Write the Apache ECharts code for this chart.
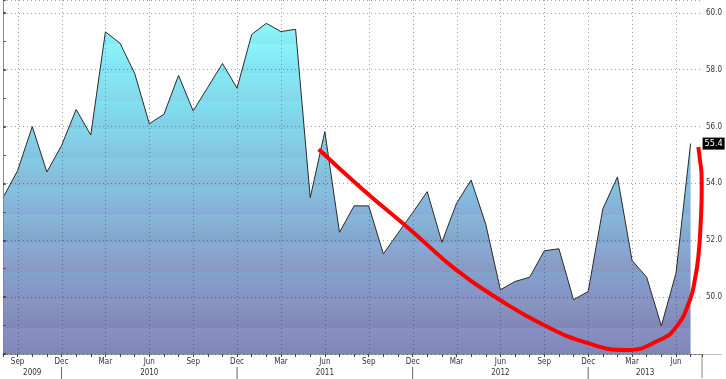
<!DOCTYPE html>
<html><head><meta charset="utf-8">
<script src="https://cdn.jsdelivr.net/npm/echarts@6/dist/echarts.min.js"></script>
<style>html,body{margin:0;padding:0;background:#fff}#c{width:726px;height:379px}</style>
</head><body><div id="c"></div>
<script>
const months = [
 'Aug 2009','Sep 2009','Oct 2009','Nov 2009','Dec 2009',
 'Jan 2010','Feb 2010','Mar 2010','Apr 2010','May 2010','Jun 2010','Jul 2010','Aug 2010','Sep 2010','Oct 2010','Nov 2010','Dec 2010',
 'Jan 2011','Feb 2011','Mar 2011','Apr 2011','May 2011','Jun 2011','Jul 2011','Aug 2011','Sep 2011','Oct 2011','Nov 2011','Dec 2011',
 'Jan 2012','Feb 2012','Mar 2012','Apr 2012','May 2012','Jun 2012','Jul 2012','Aug 2012','Sep 2012','Oct 2012','Nov 2012','Dec 2012',
 'Jan 2013','Feb 2013','Mar 2013','Apr 2013','May 2013','Jun 2013','Jul 2013'
];
const pmi = [
 53.5, 54.45, 56.0, 54.4, 55.33,
 56.6, 55.7, 59.33, 58.93, 57.87, 56.1, 56.43, 57.8, 56.55, 57.38, 58.22, 57.35,
 59.24, 59.63, 59.34, 59.42, 53.5, 55.82, 52.28, 53.21, 53.21, 51.52, 52.25, 52.97,
 53.71, 51.93, 53.3, 54.12, 52.56, 50.26, 50.55, 50.7, 51.63, 51.7, 49.91, 50.2,
 53.1, 54.23, 51.29, 50.7, 48.99, 50.84, 55.4
];
const labelMonths = ['Sep','Dec','Mar','Jun'];
const yLabelValues = [50, 52, 54, 56, 58, 60];
const lastValueText = '55.4';
const trendCurve = [
 [21.58,55.2],[24.63,53.77],[27.98,52.31],[30.98,50.96],[33.97,49.9],[36.93,49.03],
 [39.97,48.38],[42.6,48.14],[44.91,48.5],[46.05,48.97],[46.96,49.91],[47.29,50.61],
 [47.53,51.42],[47.69,52.61],[47.76,53.77],[47.75,54.3],[47.64,54.83],[47.53,55.28]
];

const FONT = '"Liberation Sans Narrow","DejaVu Sans Condensed",sans-serif';
const GRIDC = 'rgba(45,45,60,0.45)';
const bandEdges = [48, 48.9, 49.9, 50.9, 51.9, 52.9, 53.9, 54.9, 55.9, 56.9, 57.9, 58.9, 59.9, 60.45];
const bandColors = ['#8085b8','#8890c4','#8898c0','#80a4cc','#88acd8','#88b8d8','#84c2e0',
                    '#82cce6','#84d6ea','#80e0f0','#84eaf4','#8cf4fc','#90fafe'];

const chart = echarts.init(document.getElementById('c'), null, {renderer:'canvas'});
const isInt = v => Math.abs(v - Math.round(v)) < 1e-6;
const shortName = i => months[i].slice(0,3);
const gridLineIdx = months.map((m,i)=>i).filter(i => labelMonths.includes(shortName(i)));

const option = {
  animation: false,
  grid: {left: 3, right: 24, top: 0, bottom: 25},
  xAxis: [{
    type: 'value', min: 0, max: 47.78, interval: 1,
    axisLine: {show: true, lineStyle: {color: '#999'}},
    axisTick: {show: true, length: 3, lineStyle: {color: '#444'}},
    splitLine: {show: false}, minorSplitLine: {show: false},
    axisLabel: {margin: 4, fontSize: 8, color: '#333', fontFamily: FONT,
      formatter: v => (isInt(v) && months[Math.round(v)] && labelMonths.includes(shortName(Math.round(v)))) ? shortName(Math.round(v)) : ''}
  }],
  yAxis: [{
    type: 'value', position: 'right', min: 48, max: 60.45, interval: 2, z: 10,
    axisLine: {show: true, lineStyle: {color: '#888'}},
    axisTick: {show: true, length: 3, lineStyle: {color: '#333', width: 1.5}},
    minorTick: {show: true, splitNumber: 2, length: 3, lineStyle: {color: '#555'}},
    axisLabel: {margin: 4, fontSize: 8, color: '#333', fontFamily: FONT,
      formatter: v => yLabelValues.some(t => Math.abs(t - v) < 1e-6) ? v.toFixed(1) : ''},
    splitLine: {show: true, lineStyle: {type: [1,3], color: GRIDC}}
  }],
  series: [{
    type: 'line', data: pmi.map((v,i)=>[i,v]), symbol: 'none', z: 2,
    lineStyle: {color: '#2a2a2a', width: 1},
    areaStyle: {color: '#88b8d8', opacity: 1},
    endLabel: {show: true, formatter: lastValueText, distance: 12, color: '#fff',
      backgroundColor: '#000', padding: [2,2,1,2], fontSize: 9, fontFamily: FONT}
  }, {
    type: 'line', data: trendCurve, smooth: 0.5, symbol: 'none', z: 20, clip: false,
    lineStyle: {color: '#ff0000', width: 4}
  }]
};
chart.setOption(option);

const yPix = v => chart.convertToPixel({yAxisIndex: 0}, v);
const yTop = yPix(60.45), yBot = yPix(48);
const stops = [];
for (let b = 0; b < bandColors.length; b++) {
  const o0 = (yPix(bandEdges[b]) - yTop) / (yBot - yTop);
  const o1 = (yPix(bandEdges[b+1]) - yTop) / (yBot - yTop);
  stops.push({offset: Math.min(1,Math.max(0,o1)), color: bandColors[b]});
  stops.push({offset: Math.min(1,Math.max(0,o0)), color: bandColors[b]});
}
stops.sort((a,b)=>a.offset-b.offset);

const xPix = v => chart.convertToPixel({xAxisIndex: 0}, v);
const graphics = [];
// vertical gridlines at labelled months
gridLineIdx.forEach(i => {
  const x = Math.round(xPix(i)) + 0.5;
  graphics.push({type:'line', z: 5, silent: true, shape:{x1:x, y1:yTop, x2:x, y2:yBot},
    style:{stroke: GRIDC, lineWidth: 1, lineDash: [1,3]}});
});
const decIdx = months.map((m,i)=>i).filter(i => shortName(i) === 'Dec');
const edges = [0, ...decIdx, 47.78];
decIdx.forEach(i => graphics.push({type:'line', shape:{x1:xPix(i), y1:367, x2:xPix(i), y2:379}, style:{stroke:'#666', lineWidth:1}}));
for (let k = 0; k < edges.length - 1; k++) {
  const yr = months[Math.floor(edges[k]) + 1].slice(4);
  graphics.push({type:'text', x:(xPix(edges[k]) + xPix(edges[k+1]))/2, y:373,
    style:{text: yr, fontSize: 8, fontFamily: FONT, fill:'#333', align:'center', verticalAlign:'middle'}});
}
const xr = xPix(47.78);
graphics.push({type:'line', shape:{x1:xr, y1:yBot, x2:xr, y2:378}, style:{stroke:'#888', lineWidth:1}});
graphics.push({type:'line', shape:{x1:xr, y1:yBot+0.5, x2:722, y2:yBot+0.5}, style:{stroke:'#bbb', lineWidth:1}});

chart.setOption({
  series: [{areaStyle: {color: {type:'linear', x:0, y:yTop, x2:0, y2:yBot, global:true, colorStops: stops}}}],
  graphic: graphics
});
</script>
</body></html>
